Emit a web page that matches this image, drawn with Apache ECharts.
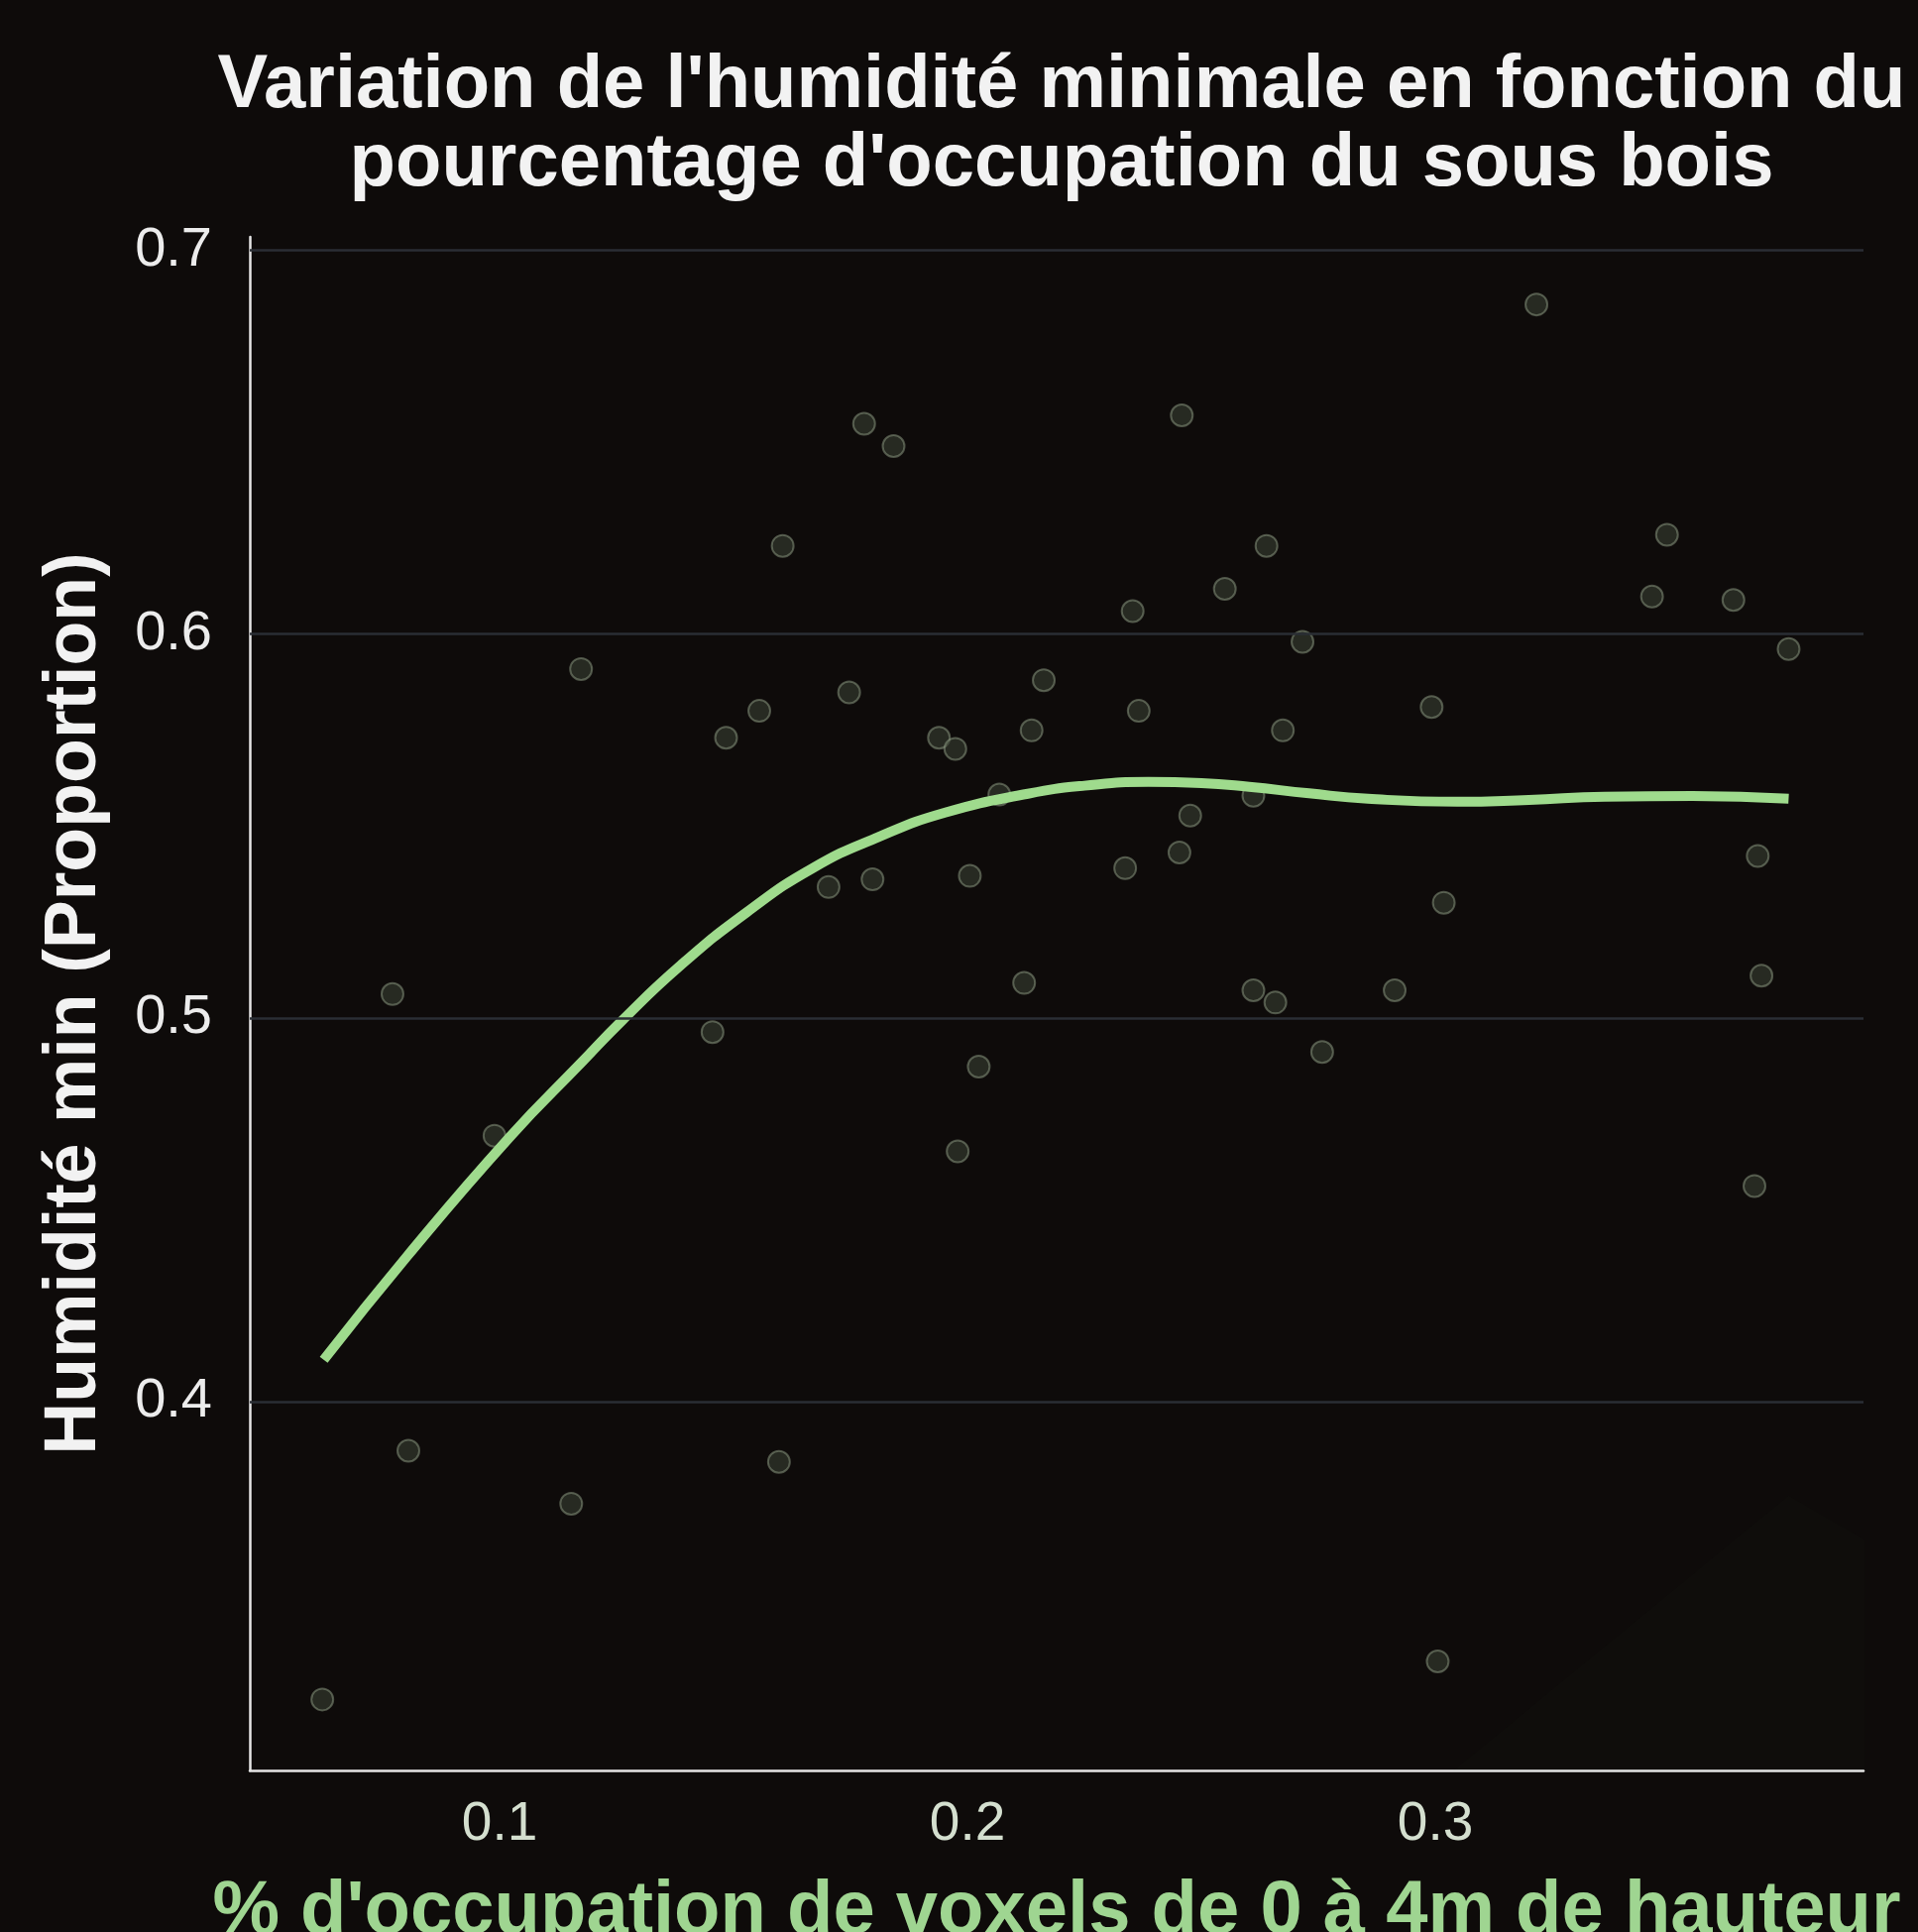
<!DOCTYPE html>
<html>
<head>
<meta charset="utf-8">
<script src="https://cdn.jsdelivr.net/npm/echarts@6/dist/echarts.min.js"></script>
<style>
html,body{margin:0;padding:0;background:#0e0b0a;}
#chart{width:1935px;height:1949px;}
</style>
</head>
<body>
<div id="chart"></div>
<script>
// ---- data ----
const titleText = "Variation de l'humidité minimale en fonction du\npourcentage d'occupation du sous bois";
const xAxisTitle = "% d'occupation de voxels de 0 à 4m de hauteur";
const yAxisTitle = "Humidité min (Proportion)";
const xTicks = [0.1, 0.2, 0.3];
const yTicks = [0.4, 0.5, 0.6, 0.7];

const pointX = [0.0621,0.0771,0.0805,0.0989,0.1153,0.1174,0.1455,0.1484,0.1555,0.1597,0.1605,0.1703,0.1747,0.1779,0.1797,0.1842,0.1939,0.1974,0.1979,0.2005,0.2024,0.2068,0.2121,0.2137,0.2163,0.2337,0.2353,0.2366,0.2453,0.2458,0.2476,0.2550,0.2611,0.2611,0.2639,0.2658,0.2674,0.2716,0.2758,0.2913,0.2992,0.3005,0.3018,0.3216,0.3463,0.3495,0.3637,0.3682,0.3689,0.3697,0.3755];
const pointY = [0.3224,0.5062,0.3872,0.4693,0.3734,0.5909,0.4963,0.5730,0.5800,0.3843,0.6230,0.5341,0.5848,0.6548,0.5361,0.6490,0.5730,0.5701,0.4652,0.5370,0.4873,0.5582,0.5091,0.5749,0.5880,0.5390,0.6060,0.5800,0.5431,0.6570,0.5527,0.6118,0.5072,0.5579,0.6230,0.5040,0.5749,0.5980,0.4911,0.5072,0.5810,0.3323,0.5300,0.6859,0.6098,0.6259,0.6089,0.4562,0.5422,0.5110,0.5961];

const smoothX = [0.0624,0.0803,0.1022,0.1176,0.1260,0.1387,0.1528,0.1669,0.1811,0.1952,0.2129,0.2250,0.2386,0.2500,0.2602,0.2730,0.2856,0.3047,0.3200,0.3362,0.3550,0.3755];
const smoothY = [0.4109,0.4380,0.4690,0.4885,0.4991,0.5137,0.5275,0.5390,0.5472,0.5535,0.5584,0.5605,0.5615,0.5612,0.5602,0.5585,0.5571,0.5563,0.5568,0.5576,0.5578,0.5571];
const bandLower = [0.324,0.358,0.408,0.438,0.455,0.477,0.494,0.503,0.515,0.527,0.538,0.539,0.538,0.537,0.530,0.513,0.485,0.440,0.470,0.500,0.512,0.500];
const bandUpper = [0.539,0.541,0.546,0.554,0.561,0.569,0.578,0.592,0.590,0.589,0.586,0.585,0.589,0.590,0.587,0.586,0.590,0.605,0.630,0.632,0.620,0.610];

// ---- build ----
const points = pointX.map((x, i) => [x, pointY[i]]);
const smoothData = smoothX.map((x, i) => [x, smoothY[i]]);
const lowerData = smoothX.map((x, i) => [x, bandLower[i]]);
const spanData = smoothX.map((x, i) => [x, bandUpper[i] - bandLower[i]]);

const chart = echarts.init(document.getElementById('chart'));
chart.setOption({
  backgroundColor: '#0e0b0a',
  animation: false,
  title: {
    text: titleText,
    left: 1066, textAlign: 'center',
    top: 43,
    textStyle: { color: '#f2f2f2', fontFamily: 'Liberation Sans', fontWeight: 'bold', fontSize: 76, lineHeight: 79 }
  },
  grid: { left: 252, right: 55, top: 239, bottom: 163, containLabel: false, outerBoundsMode: 'none' },
  xAxis: {
    type: 'value', min: 0.0466, max: 0.3915,
    axisLine: { show: true, onZero: false, lineStyle: { color: '#e6e6e6', width: 2.5 } },
    axisTick: { show: false },
    splitLine: { show: false },
    axisLabel: { customValues: xTicks, color: '#d4dfcf', fontFamily: 'Liberation Sans', fontSize: 55, margin: 27,
      formatter: v => v.toFixed(1) },
    name: xAxisTitle, nameLocation: 'middle', nameGap: 105,
    nameTextStyle: { color: '#9fd591', fontFamily: 'Liberation Sans', fontWeight: 'bold', fontSize: 76 }
  },
  yAxis: {
    type: 'value', min: 0.3039, max: 0.7035,
    axisLine: { show: true, onZero: false, lineStyle: { color: '#e6e6e6', width: 2.5 } },
    axisTick: { show: false },
    splitLine: { show: false },
    axisLabel: { customValues: yTicks, color: '#ececec', fontFamily: 'Liberation Sans', fontSize: 56, margin: 38,
      padding: [14, 0, 0, 0], formatter: v => v.toFixed(1) },
    name: yAxisTitle, nameLocation: 'middle', nameGap: 139, nameRotate: 90,
    nameTextStyle: { color: '#f2f2f2', fontFamily: 'Liberation Sans', fontWeight: 'bold', fontSize: 73.5 }
  },
  series: [
    {
      type: 'line', data: lowerData, stack: 'band', symbol: 'none', smooth: 0.5,
      lineStyle: { opacity: 0 }, silent: true, z: 1,
      markLine: {
        silent: true, symbol: 'none', label: { show: false },
        lineStyle: { color: '#2a2e34', width: 2.5, type: 'solid' },
        data: yTicks.map(v => ({ yAxis: v }))
      }
    },
    {
      type: 'line', data: spanData, stack: 'band', symbol: 'none', smooth: 0.5,
      lineStyle: { opacity: 0 }, silent: true, z: 1,
      areaStyle: { color: 'rgba(150,210,140,0.025)' }
    },
    {
      type: 'scatter', data: points, symbolSize: 22, z: 2,
      itemStyle: { color: 'rgba(56,64,50,0.75)', borderColor: 'rgba(150,165,140,0.6)', borderWidth: 2 }
    },
    {
      type: 'line', data: smoothData, symbol: 'none', smooth: 0.5, z: 3,
      lineStyle: { color: '#9fdb8d', width: 10, cap: 'butt' }
    }
  ]
});
</script>
</body>
</html>
